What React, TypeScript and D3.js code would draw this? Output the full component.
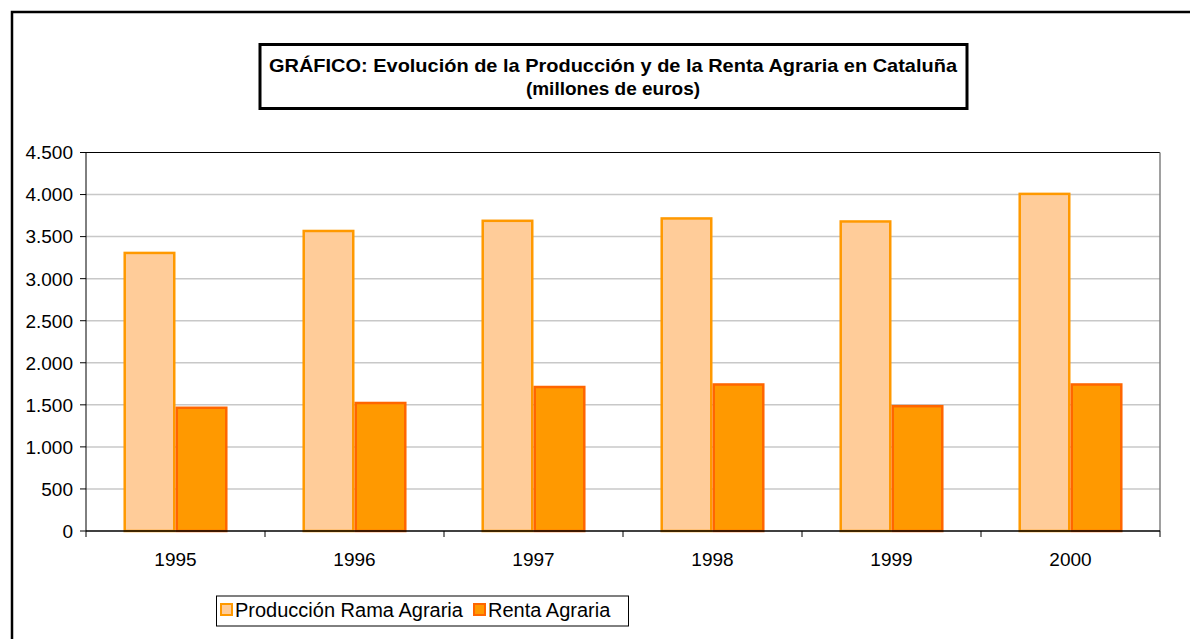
import React from "react";
import {scaleBand, scaleLinear, range} from "d3";

// data (millones de euros)
const years = ["1995", "1996", "1997", "1998", "1999", "2000"];
const produccion = [3306, 3567, 3688, 3716, 3680, 4008];
const renta = [1465, 1522, 1712, 1742, 1484, 1742];
const seriesNames = ["Producción Rama Agraria", "Renta Agraria"];
const yTicks = range(0, 4501, 500);

const fills = ["#FFCC99", "#FF9900"];
const strokes = ["#FF9900", "#FF6600"];

const fmt = (v: number) => v.toLocaleString("de-DE");

export default function App() {
    const W = 1190, H = 639;
    const left = 86, right = 1160, top = 152.5, bottom = 531;

    const x0 = scaleBand().domain(years).range([left, right]).padding(0);
    const x1 = scaleBand()
        .domain(seriesNames)
        .range([0, x0.bandwidth()])
        .paddingInner(0)
        .paddingOuter(0.72);
    const y = scaleLinear().domain([0, 4500]).range([bottom, top]);

    const values = [produccion, renta];
    const font = "'Liberation Sans', Arial, sans-serif";

    return (
        <svg width={W} height={H} style={{position: "absolute", left: 0, top: 0}}>
            <rect x={0} y={0} width={W} height={H} fill="#fff"/>
            {/* outer chart border, runs off the picture right and bottom */}
            <rect x={12} y={12} width={W} height={H} fill="none" stroke="#000" strokeWidth={2.5}/>

            {/* title box */}
            <rect x={260} y={44.5} width={707} height={64} fill="#fff" stroke="#000" strokeWidth={3}/>
            <text x={613} y={72} textAnchor="middle" fontFamily={font} fontWeight="bold" fontSize={19}
                  textLength={688} lengthAdjust="spacingAndGlyphs">
                GRÁFICO: Evolución de la Producción y de la Renta Agraria en Cataluña
            </text>
            <text x={613} y={95} textAnchor="middle" fontFamily={font} fontWeight="bold" fontSize={19}>
                (millones de euros)
            </text>

            {/* gridlines */}
            {yTicks.filter(t => t > 0 && t < 4500).map(t => (
                <line key={t} x1={left} x2={right} y1={y(t)} y2={y(t)} stroke="#C8C8C8" strokeWidth={1.5}/>
            ))}
            <line x1={left} x2={right} y1={y(4500)} y2={y(4500)} stroke="#000" strokeWidth={1}/>
            <line x1={right} x2={right} y1={top} y2={bottom} stroke="#808080" strokeWidth={1.5}/>

            {/* bars */}
            {years.map((yr, i) => (
                <g key={yr} transform={`translate(${x0(yr)},0)`}>
                    {seriesNames.map((s, j) => (
                        <rect key={s}
                              x={x1(s)! + 1.25}
                              y={y(values[j][i])}
                              width={x1.bandwidth() - 2.5}
                              height={y(0) - y(values[j][i])}
                              fill={fills[j]}
                              stroke={strokes[j]}
                              strokeWidth={2.5}/>
                    ))}
                </g>
            ))}

            {/* y axis */}
            <line x1={left} x2={left} y1={top} y2={bottom} stroke="#000" strokeWidth={1}/>
            {yTicks.map(t => (
                <g key={t}>
                    <line x1={left - 6} x2={left} y1={y(t)} y2={y(t)} stroke="#000"/>
                    <text x={left - 13} y={y(t)} dy="0.36em" textAnchor="end" fontFamily={font} fontSize={19}>
                        {fmt(t)}
                    </text>
                </g>
            ))}

            {/* x axis */}
            <line x1={left} x2={right} y1={bottom} y2={bottom} stroke="#000" strokeWidth={1.5}/>
            {range(years.length + 1).map(k => {
                const xx = left + k * x0.step();
                return <line key={k} x1={xx} x2={xx} y1={bottom} y2={bottom + 6} stroke="#000"/>;
            })}
            {years.map(yr => (
                <text key={yr} x={x0(yr)! + x0.bandwidth() / 2} y={566} textAnchor="middle"
                      fontFamily={font} fontSize={19}>{yr}</text>
            ))}

            {/* legend */}
            <rect x={216.5} y={596} width={412} height={30} fill="#fff" stroke="#000" strokeWidth={1}/>
            {seriesNames.map((s, j) => {
                const lx = j === 0 ? 221 : 474;
                return (
                    <g key={s}>
                        <rect x={lx} y={604} width={11} height={11} fill={fills[j]} stroke={strokes[j]} strokeWidth={2}/>
                        <text x={lx + 14} y={617} fontFamily={font} fontSize={20}>{s}</text>
                    </g>
                );
            })}
        </svg>
    );
}
